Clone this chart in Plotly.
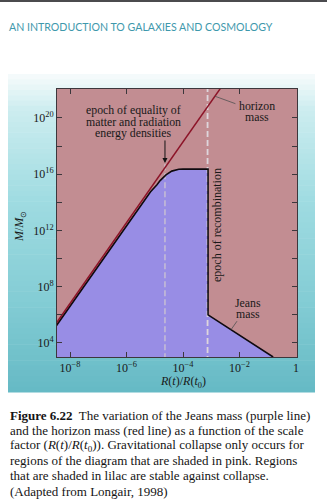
import numpy as np
import plotly.graph_objects as go

# ---- data -------------------------------------------------------------
# scale factor R(t)/R(t0) and mass in solar masses
horizon_R = [3.0e-9, 4.0e-3]
horizon_M = [2.0e5, 8.0e22]

jeans_R = [3.0e-9, 3.5e-6, 7.1e-6, 1.2e-5, 1.55e-5, 2.5e-5, 4.0e-5, 7.1e-5, 1.0e-4, 7.7e-4, 7.7e-4, 0.155]
jeans_M = [1.3e5, 8.9e13, 5.6e14, 1.8e15, 3.5e15, 8.9e15, 1.66e16, 2.24e16, 2.3e16, 2.3e16, 1.0e6, 1.0e3]

equality_R = 2.3e-5
recombination_R = 7.4e-4

x_tick_vals = [1e-8, 1e-6, 1e-4, 1e-2, 1]
x_tick_text = ["10<sup>−8</sup>", "10<sup>−6</sup>", "10<sup>−4</sup>", "10<sup>−2</sup>", "1"]
y_tick_vals = [1e4, 1e6, 1e8, 1e10, 1e12, 1e14, 1e16, 1e18, 1e20]
y_tick_text = ["10<sup>4</sup>", "", "10<sup>8</sup>", "", "10<sup>12</sup>", "",
               "10<sup>16</sup>", "", "10<sup>20</sup>"]

caption_lines = [
    "<b>Figure 6.22</b>  The variation of the Jeans mass (purple line)",
    "and the horizon mass (red line) as a function of the scale",
    "factor (<i>R</i>(<i>t</i>)/<i>R</i>(<i>t</i><sub>0</sub>)). Gravitational collapse only occurs for",
    "regions of the diagram that are shaded in pink. Regions",
    "that are shaded in lilac are stable against collapse.",
    "(Adapted from Longair, 1998)",
]

# ---- page geometry ------------------------------------------------------
W, H = 327, 501
ML, MR, MT, MB = 57, 30, 89, 144
PW, PH = W - ML - MR, H - MT - MB


def pxx(x):
    return (x - ML) / PW


def pxy(y):
    return (H - MB - y) / PH


SERIF = "Liberation Serif"
PINK = "rgb(194,141,146)"
LILAC = "rgb(152,141,229)"

fig = go.Figure()

# lilac region below the Jeans mass
fig.add_trace(go.Scatter(
    x=jeans_R + [jeans_R[-1], jeans_R[0]],
    y=jeans_M + [1e2, 1e2],
    fill="toself", fillcolor=LILAC, line=dict(width=0),
    mode="lines", hoverinfo="skip", showlegend=False))

# epoch markers
fig.add_trace(go.Scatter(
    x=[equality_R, equality_R], y=[10 ** 16.7, 1e2], mode="lines",
    line=dict(color="rgb(205,198,210)", width=1.3, dash="6px,3px"),
    hoverinfo="skip", showlegend=False))
fig.add_trace(go.Scatter(
    x=[recombination_R, recombination_R], y=[1e2, 1e24], mode="lines",
    line=dict(color="rgb(222,214,220)", width=1.8, dash="6px,3px"),
    hoverinfo="skip", showlegend=False))

# Jeans mass and horizon mass
fig.add_trace(go.Scatter(
    x=jeans_R, y=jeans_M, mode="lines",
    line=dict(color="rgb(15,10,15)", width=1.6),
    hoverinfo="skip", showlegend=False))
fig.add_trace(go.Scatter(
    x=horizon_R, y=horizon_M, mode="lines",
    line=dict(color="rgb(140,20,40)", width=1.5),
    hoverinfo="skip", showlegend=False))

# ---- background panel (vertical cyan gradient) -------------------------
stops_y = [74, 110, 200, 300, 392]
stops_c = [(248, 252, 252), (205, 237, 240), (160, 220, 226), (132, 205, 213), (102, 186, 197)]
shapes = []
n = 60
ys = np.linspace(74, 392, n + 1)
for i in range(n):
    ym = 0.5 * (ys[i] + ys[i + 1])
    c = [int(np.interp(ym, stops_y, [s[k] for s in stops_c])) for k in range(3)]
    shapes.append(dict(type="rect", xref="paper", yref="paper",
                       x0=pxx(8), x1=pxx(315), y0=pxy(ys[i + 1] + 0.5), y1=pxy(ys[i]),
                       fillcolor=f"rgb({c[0]},{c[1]},{c[2]})", line=dict(width=0),
                       layer="below"))
# pink plot field
shapes.append(dict(type="rect", xref="paper", yref="paper", x0=0, x1=1, y0=0, y1=1,
                   fillcolor=PINK, line=dict(width=0), layer="below"))
# dark rule along the top of the page
shapes.append(dict(type="rect", xref="paper", yref="paper",
                   x0=pxx(0), x1=pxx(W), y0=pxy(2), y1=pxy(-1),
                   fillcolor="rgb(75,75,78)", line=dict(width=0), layer="below"))

# ---- annotations --------------------------------------------------------
ann = []


def text(x, y, s, size=12, family=SERIF, color="rgb(25,25,25)", anchor="center", angle=0):
    ann.append(dict(x=pxx(x), y=pxy(y), xref="paper", yref="paper", text=s,
                    showarrow=False, xanchor=anchor, yanchor="middle", textangle=angle,
                    font=dict(family=family, size=size, color=color)))


text(7, 27, "AN INTRODUCTION TO GALAXIES AND COSMOLOGY", size=10.6, family="Lato",
     color="rgb(62,152,172)", anchor="left")

text(133, 110, "epoch of equality of", size=11.8)
text(133, 121.5, "matter and radiation", size=11.8)
text(133, 133, "energy densities", size=11.8)
text(257, 105.5, "horizon", size=11.8)
text(257, 116.5, "mass", size=11.8)
text(248, 302.5, "Jeans", size=11.8)
text(248, 313.5, "mass", size=11.8)
text(217, 225, "epoch of recombination", angle=-90)

text(20, 227, "<i>M</i>/<i>M</i><sub>⊙</sub>", size=12, angle=-90)
text(183, 382, "<i>R</i>(<i>t</i>)/<i>R</i>(<i>t</i><sub>0</sub>)", size=12)

for i, line in enumerate(caption_lines):
    text(8, 415 + 15.2 * i, line, size=13, color="rgb(20,20,20)", anchor="left")
text(196, 507, "with the shaded", size=13, color="rgb(20,20,20)", anchor="left")

# arrow marking the epoch of equality
eq_tip = 16.8
ann.append(dict(x=np.log10(equality_R), y=eq_tip, xref="x", yref="y", text="",
                showarrow=True, ax=0, ay=-24, axref="pixel", ayref="pixel",
                arrowhead=2, arrowsize=1, arrowwidth=1.0, arrowcolor="rgb(20,20,20)",
                standoff=0))

# leader lines from the labels to the curves
lhx, lhy = np.log10(horizon_R), np.log10(horizon_M)
hx = -2.87
hy = np.interp(hx, lhx, lhy)
ann.append(dict(x=hx, y=hy, xref="x", yref="y", text="", showarrow=True,
                ax=22, ay=8, axref="pixel", ayref="pixel", arrowhead=0,
                arrowwidth=0.8, arrowcolor="rgb(80,80,80)", standoff=0))
ljx, ljy = np.log10(jeans_R[-2:]), np.log10(jeans_M[-2:])
jx = -2.30
jy = np.interp(jx, ljx, ljy)
ann.append(dict(x=jx, y=jy, xref="x", yref="y", text="", showarrow=True,
                ax=7, ay=-10, axref="pixel", ayref="pixel", arrowhead=0,
                arrowwidth=0.8, arrowcolor="rgb(80,80,80)", standoff=0))

axis_common = dict(showline=True, linecolor="rgb(60,55,60)", linewidth=1, mirror="allticks",
                   ticks="inside", ticklen=5, tickcolor="rgb(60,55,60)", tickwidth=1,
                   showgrid=False, zeroline=False,
                   tickfont=dict(family=SERIF, size=12, color="rgb(25,25,25)"))

fig.update_layout(
    width=W, height=H,
    margin=dict(l=ML, r=MR, t=MT, b=MB, pad=0),
    paper_bgcolor="white", plot_bgcolor="rgba(0,0,0,0)",
    xaxis=dict(type="log", range=[-8.46, 0.035], tickmode="array",
               tickvals=x_tick_vals, ticktext=x_tick_text, **axis_common),
    yaxis=dict(type="log", range=[3.0, 22.06], tickmode="array",
               tickvals=y_tick_vals, ticktext=y_tick_text, **axis_common),
    shapes=shapes, annotations=ann, showlegend=False,
)

fig.write_html("out.html")
